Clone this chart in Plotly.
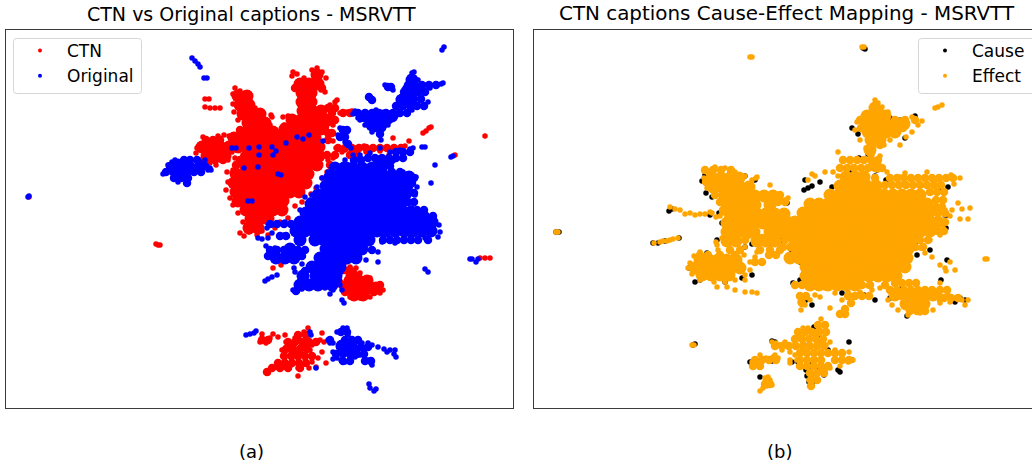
import plotly.graph_objects as go

W, H = 1032, 462

# Values, embedding coordinates (x, y), row by row: {y: [x, ...]}
ctn_dense_rows = {
    75: [317], 84: [300, 309, 318], 93: [302, 311], 102: [302, 311], 111: [303, 312, 321],
    120: [292, 301, 310, 319, 328], 129: [285, 294, 303, 312, 321],
    96: [238, 247], 105: [240, 249], 114: [243, 252, 260], 123: [248, 257, 265], 132: [255, 264, 273],
    138: [234, 243, 252, 261, 270, 279, 288, 297, 306, 315],
    147: [202, 211, 220, 229, 238, 247, 256, 265, 274, 283, 292, 301, 310, 319],
    156: [207, 216, 225, 247, 256, 265, 274, 283, 292, 301, 310, 319],
    165: [245, 254, 263, 272, 281, 290, 299, 308, 317],
    174: [236, 245, 254, 263, 272, 281, 290, 299, 308],
    183: [234, 243, 252, 261, 270, 279, 288, 297, 306],
    192: [236, 245, 254, 263, 272, 281, 290, 299],
    201: [238, 247, 256, 265, 274, 283],
    210: [246, 255, 264, 273, 282],
    219: [251, 260, 268],
    228: [249, 258],
    275: [352], 281: [350, 359, 367], 288: [350, 359, 368, 376], 295: [354, 363],
}
ctn_mid_rows = {
    335: [298, 306], 342: [288, 295, 302, 309, 316], 349: [286, 293, 300, 307],
    356: [284, 291, 298, 305, 312], 363: [278, 285, 292, 299, 306], 368: [272, 280, 288, 300],
    340: [262, 268], 372: [267],
    148: [338, 345, 352, 359, 366, 373, 380, 387, 394, 401],
    155: [327, 335, 350, 357],
    133: [328, 332], 127: [325], 120: [335], 113: [343, 350, 332],
    108: [328, 335], 88: [295, 322],
    270: [344, 350], 285: [342, 380], 292: [345, 374],
    140: [206, 213, 220, 328], 160: [205, 215, 223, 240],
    130: [240, 246], 165: [236, 330],
}
ctn_sparse = [
    (317, 68), (322, 72), (326, 78), (312, 70), (292, 76), (297, 74), (304, 78), (325, 92), (321, 90), (293, 72),
    (330, 105), (335, 102), (337, 100), (326, 108), (333, 112), (340, 113), (347, 112), (352, 111), (283, 117), (288, 116),
    (272, 117), (284, 125), (270, 125), (281, 133), (320, 128), (333, 125), (235, 88), (233, 94), (240, 91), (245, 93),
    (250, 100), (255, 108), (258, 112), (263, 118), (233, 104), (234, 112), (238, 120), (271, 115), (224, 135), (229, 136),
    (197, 148), (196, 153), (200, 160), (210, 163), (220, 160), (228, 160), (232, 152), (203, 137), (213, 139), (218, 136),
    (328, 160), (333, 158), (328, 137), (333, 141), (336, 148), (342, 152), (335, 165), (345, 150), (355, 148), (364, 146),
    (375, 148), (385, 148), (395, 148), (405, 146), (409, 141), (355, 150), (366, 152), (380, 151), (397, 152), (352, 157),
    (243, 155), (235, 158), (233, 170), (227, 172), (228, 182), (226, 190), (230, 198), (233, 205), (238, 213), (243, 222),
    (240, 233), (244, 236), (249, 232), (257, 235), (262, 231), (268, 235), (275, 228), (280, 222), (288, 218), (295, 206),
    (302, 202), (311, 194), (316, 188), (322, 178), (327, 172), (213, 157), (205, 165), (216, 165), (222, 157), (239, 160),
    (205, 99), (209, 99), (205, 107), (210, 108), (215, 108), (220, 108), (158, 245), (156, 244), (160, 245), (485, 136),
    (423, 133), (426, 131), (429, 128), (431, 127), (455, 155), (393, 138), (480, 258), (485, 258), (490, 258), (273, 268),
    (281, 265), (369, 149), (389, 155), (347, 279), (345, 270), (350, 267), (360, 273), (370, 278), (380, 285), (383, 290),
    (380, 293), (370, 297), (360, 298), (350, 297), (343, 290), (341, 282), (343, 262), (340, 264), (346, 262), (356, 268),
    (29, 197),
    (290, 345), (296, 340), (304, 345), (310, 350), (312, 358), (306, 364), (298, 368), (290, 366), (284, 356), (282, 350),
    (300, 335), (304, 332), (308, 328), (296, 352), (298, 358), (303, 354), (292, 358), (305, 358), (300, 348), (290, 350),
    (278, 367), (273, 368), (268, 373), (266, 372), (284, 362), (298, 376), (316, 367), (312, 362), (318, 358), (322, 352),
    (262, 334), (260, 342), (266, 343), (270, 338), (262, 338), (273, 334), (278, 337), (285, 335), (315, 342), (320, 340),
    (324, 342), (322, 333), (326, 363), (312, 345), (309, 368), (295, 338), (286, 342), (294, 345), (300, 341), (307, 338),
]
original_dense_rows = {
    168: [335, 344, 353, 362, 372, 381],
    177: [330, 339, 348, 357, 366, 375, 384, 393, 409],
    186: [326, 335, 344, 353, 362, 371, 380, 389, 398, 407],
    195: [318, 327, 336, 345, 354, 363, 372, 381, 390, 399, 405],
    204: [311, 320, 329, 338, 347, 356, 365, 374, 383, 392, 401],
    213: [306, 315, 324, 333, 342, 351, 360, 369, 378, 387, 396, 405],
    222: [300, 309, 318, 327, 336, 345, 354, 363, 372, 381, 390, 399, 408, 417, 426, 432],
    231: [296, 305, 314, 323, 332, 341, 350, 359, 368, 377, 386, 395, 404, 413, 422, 431],
    240: [300, 315, 324, 333, 342, 351, 360, 369],
    249: [290, 326, 335, 344, 353, 362],
    258: [276, 285, 294, 320, 329, 338, 347, 356],
    267: [322, 331, 340, 312],
    276: [316, 325, 336, 303],
    285: [300, 309, 318, 332],
    116: [365, 374, 383, 392], 125: [372, 381], 100: [402, 411], 90: [408, 417], 80: [412],
    165: [178, 187], 172: [176, 185],
    350: [347], 346: [342, 351],
}
original_mid_rows = {
    113: [358, 365, 372, 379, 386, 393, 400, 407], 120: [368, 375, 382, 389], 128: [375, 382], 134: [380],
    78: [411], 85: [408, 415, 422, 429, 436], 92: [404, 411, 418, 425], 99: [400, 407, 414, 421],
    106: [396, 403, 410, 417, 424],
    87: [388, 391], 97: [369], 100: [372],
    160: [184, 190, 197, 354, 361, 378, 385, 392], 166: [170, 177, 184, 191, 198, 205, 347, 390],
    172: [166, 173, 180, 187, 194, 201, 392, 400], 178: [174, 181, 188, 402, 414], 183: [187, 412],
    158: [368, 375, 382, 389, 396, 403], 152: [396, 403, 410],
    210: [410, 417, 424], 216: [412, 419, 426, 433], 202: [408, 414], 193: [414],
    240: [383, 390, 397, 404, 411, 418, 428], 250: [372, 270, 277, 284, 298, 305], 224: [270, 277, 284, 291],
    236: [280, 286], 256: [268, 302],
    291: [296], 286: [302], 278: [304], 271: [305, 318, 325, 332, 340], 284: [310, 324], 280: [317, 331, 338],
    332: [341, 347], 340: [330, 345, 352, 358], 347: [340, 347, 354, 361, 368], 354: [336, 343, 350, 357, 364],
    361: [343, 350, 365, 371],
    130: [343, 347], 137: [345, 340], 144: [348],
}
original_sparse = [
    (192, 58), (195, 61), (198, 64), (200, 67), (207, 78), (204, 78), (444, 47), (442, 50), (412, 73), (414, 72),
    (418, 80), (420, 90), (425, 85), (430, 88), (436, 86), (441, 84), (443, 83), (428, 102), (418, 105), (412, 110),
    (390, 87), (385, 85), (393, 90), (370, 97), (372, 99), (403, 103), (397, 108), (355, 111), (353, 114), (358, 118),
    (366, 112), (376, 110), (382, 115), (365, 125), (372, 132), (380, 135), (381, 140), (388, 125), (395, 115), (360, 120),
    (340, 128), (343, 136), (345, 142), (338, 135), (347, 132), (351, 148), (353, 155), (345, 160), (360, 155), (370, 153),
    (380, 148), (390, 152), (400, 150), (410, 149), (413, 148), (378, 158), (392, 160), (385, 165), (395, 158), (357, 160),
    (422, 147), (425, 147), (453, 156), (451, 157), (435, 165), (431, 183), (425, 269), (428, 272), (403, 172), (385, 172),
    (387, 175), (388, 176), (390, 172), (403, 175), (410, 174), (416, 177), (417, 187), (411, 185), (415, 195), (410, 203),
    (412, 208), (420, 212), (425, 216), (432, 220), (439, 225), (440, 232), (438, 237), (425, 238), (412, 240), (410, 236),
    (395, 243), (382, 242), (378, 252), (372, 251), (383, 236), (378, 262), (366, 260), (300, 210), (305, 197), (312, 195),
    (310, 200), (317, 187), (322, 178), (328, 172), (285, 222), (272, 225), (267, 228), (272, 233), (280, 237), (284, 235),
    (262, 239), (258, 238), (268, 238), (270, 252), (266, 246), (275, 248), (268, 256), (290, 248), (295, 250), (302, 264),
    (294, 268), (295, 272), (302, 273), (310, 265), (293, 290), (296, 292), (302, 289), (312, 286), (325, 288), (342, 290),
    (340, 285), (342, 300), (344, 303), (272, 277), (268, 279), (265, 281), (277, 275), (330, 294), (333, 290), (343, 257),
    (232, 148),
    (236, 148), (249, 148), (259, 147), (272, 147), (276, 151), (273, 155), (259, 155), (258, 167), (244, 168),
    (286, 143), (297, 137), (303, 139), (309, 135), (323, 141), (252, 201), (248, 201), (281, 175), (278, 174),
    (165, 173), (163, 174), (168, 165), (172, 162), (175, 160), (180, 165), (184, 160), (190, 166), (197, 168), (200, 162),
    (205, 160), (210, 168), (211, 170), (187, 180), (183, 177), (174, 175), (178, 182), (192, 170), (208, 170), (203, 165),
    (29, 196), (28, 197), (472, 259), (476, 262), (478, 259), (470, 259),
    (246, 335), (250, 334), (254, 333), (256, 331), (310, 332), (311, 335), (328, 340), (330, 343), (333, 343), (337, 332),
    (343, 328), (347, 328), (348, 335), (333, 352), (340, 345), (345, 343), (355, 340), (362, 343), (368, 343), (372, 345),
    (337, 358), (345, 362), (350, 358), (360, 355), (368, 360), (372, 365), (371, 363), (333, 359), (341, 360), (378, 347),
    (384, 349), (390, 350), (395, 350), (394, 354), (396, 357), (387, 352), (316, 368), (369, 384), (370, 388), (374, 391),
    (376, 389), (352, 340), (351, 350), (344, 352), (358, 350), (364, 350), (355, 357),
]
cause_sparse = [
    (556, 232), (559, 232), (863, 48), (865, 49), (653, 243), (658, 243), (665, 241), (679, 238), (669, 211), (672, 209),
    (712, 171), (705, 175), (702, 181), (706, 193), (712, 197), (722, 199), (730, 173), (745, 176), (755, 180), (773, 200),
    (787, 203), (805, 180), (808, 188), (804, 190), (812, 186), (820, 182), (832, 187), (846, 180), (852, 172), (859, 158),
    (868, 154), (852, 128), (858, 134), (890, 118), (900, 120), (915, 116), (905, 138), (880, 138), (877, 141), (875, 176),
    (877, 170), (878, 166), (886, 180), (891, 184), (905, 184), (941, 189), (948, 187), (947, 215), (946, 228), (945, 215),
    (915, 235), (915, 243), (920, 241), (917, 255), (930, 250), (947, 260), (941, 280), (902, 288), (905, 290), (910, 292),
    (907, 297), (915, 296), (940, 300), (955, 302), (965, 300), (960, 298), (913, 307), (895, 298), (907, 316), (890, 298),
    (800, 262), (792, 252), (782, 240), (771, 243), (752, 244), (758, 242), (745, 247), (717, 240), (722, 223), (719, 213),
    (710, 215), (707, 253), (689, 268), (695, 282), (700, 280), (727, 268), (732, 265), (725, 282), (742, 278), (752, 275),
    (800, 280), (793, 283), (812, 305), (806, 300), (842, 293), (864, 295), (875, 300), (838, 253), (862, 258),
    (814, 327), (804, 345), (787, 345), (775, 342), (772, 341), (818, 338), (822, 345), (828, 350), (849, 342),
    (852, 360), (840, 372), (838, 370), (810, 366), (806, 370), (798, 362), (792, 362), (772, 361), (760, 367), (750, 362),
    (760, 377), (695, 344), (693, 345), (810, 365), (818, 368), (824, 375), (807, 376), (809, 382), (812, 384),
]
effect_dense_rows = {
    108: [875], 116: [867, 876, 885], 124: [868, 877, 886, 895, 904], 132: [868, 877, 886, 895],
    140: [871, 880], 150: [870], 165: [875],
    177: [846, 855, 864], 186: [840, 849, 858, 867, 876],
    195: [830, 839, 848, 857, 866, 875, 884, 893, 902, 911, 920],
    204: [810, 819, 828, 837, 846, 855, 864, 873, 882, 891, 900, 909, 918, 927],
    213: [803, 812, 821, 830, 839, 848, 857, 866, 875, 884, 893, 902, 911, 920, 929],
    222: [795, 804, 813, 822, 831, 840, 849, 858, 867, 876, 885, 894, 903, 912, 921, 930, 938],
    231: [795, 804, 813, 822, 831, 840, 849, 858, 867, 876, 885, 894, 903, 912, 921, 930],
    240: [795, 804, 813, 822, 831, 840, 849, 858, 867, 876, 885, 894, 903, 912],
    249: [800, 809, 818, 827, 836, 845, 854, 863, 872, 881, 890, 899, 908],
    258: [790, 799, 808, 817, 826, 835, 844, 853, 862, 871, 880, 889, 898, 907],
    267: [806, 815, 824, 833, 842, 851, 860, 869, 878, 887, 896, 905],
    276: [806, 815, 824, 833, 842, 851, 860, 869, 878, 887, 896],
    285: [810, 819, 828, 837, 846, 855],
    295: [895, 904, 915, 924, 933], 304: [906, 915, 924],
    178: [712, 721, 730, 739], 187: [713, 722, 731, 740, 749], 196: [728, 737, 746, 755, 764, 773],
    205: [728, 737, 746, 755, 770], 214: [730, 739, 748, 757, 766, 775, 784],
    223: [727, 736, 745, 754, 763, 772, 781, 790], 232: [727, 736, 745, 754, 770, 779, 788], 241: [727, 736, 757, 766, 775],
    260: [700, 709, 718, 727, 736], 268: [695, 704, 713, 722, 731, 740], 275: [702, 711, 720, 729],
}
effect_mid_rows = {
    160: [843, 850, 857, 864, 871, 878], 168: [840, 847, 854, 861, 868, 875, 882],
    178: [875, 890, 897, 904, 911, 918, 925, 932, 939, 946, 953],
    185: [885, 892, 899, 906, 913, 920, 927, 934, 941],
    192: [930, 937, 944], 200: [936, 943], 207: [936, 942], 213: [938, 945], 222: [945], 231: [938, 944],
    240: [920, 928, 745, 785], 247: [783, 790, 915, 923], 283: [895, 902, 909, 916],
    290: [890, 897, 904, 911, 918, 925, 932, 940, 947],
    298: [940, 944, 951, 958], 311: [910, 917, 925],
    296: [800, 806, 848, 855, 862, 869], 303: [802, 851], 309: [845], 314: [840, 845], 285: [795, 802, 862, 870, 885],
    250: [730, 740, 760, 770, 780, 795], 262: [755, 762],
    170: [705, 713, 721, 731], 182: [706], 255: [700, 708, 720, 735, 769, 776],
    195: [715, 722, 780], 202: [720, 778, 785], 210: [723], 235: [748], 238: [762],
    120: [860, 895, 905, 915], 128: [861, 903], 145: [873, 880], 112: [880],
    325: [818, 825], 332: [798, 805, 812, 819, 826], 339: [795, 802, 809, 816, 823],
    346: [775, 782, 789, 796, 803, 810, 817, 824], 353: [800, 807, 814, 821, 828, 835, 842],
    360: [755, 762, 769, 776, 800, 807, 814, 821, 835, 842, 849], 366: [753, 760, 800, 807, 814, 821, 828],
    373: [810, 817, 824], 380: [811, 817], 386: [811], 384: [770, 765],
}
effect_sparse = [
    (556, 232), (558, 232), (750, 57), (752, 57), (862, 47), (864, 47), (985, 259), (987, 259), (692, 345), (694, 345),
    (654, 243), (660, 242), (663, 241), (667, 241), (670, 240), (673, 239), (678, 238), (670, 207), (675, 209), (680, 210),
    (685, 214), (690, 213), (695, 215), (700, 214), (705, 214), (710, 212), (712, 213), (716, 217), (720, 216), (722, 213),
    (715, 167), (708, 173), (704, 178), (707, 188), (725, 168), (735, 172), (745, 176), (752, 180), (756, 178), (757, 177),
    (770, 185), (770, 202), (773, 197), (781, 200), (785, 200), (788, 198), (717, 245), (722, 238), (716, 242), (718, 250),
    (700, 252), (694, 256), (690, 263), (688, 268), (692, 274), (700, 280), (714, 282), (725, 282), (735, 280), (745, 275),
    (750, 270), (745, 280), (717, 287), (727, 287), (735, 290), (745, 292), (752, 292), (757, 293), (750, 262), (744, 255),
    (755, 257), (745, 247), (757, 252), (754, 243), (770, 250),
    (808, 180), (812, 174), (815, 176), (825, 172), (833, 172), (838, 176), (838, 152), (843, 159), (850, 162), (853, 167),
    (860, 160), (870, 158), (875, 160), (878, 170), (875, 100), (878, 103), (882, 107), (888, 112), (900, 120), (912, 117),
    (922, 121), (918, 125), (912, 132), (906, 137), (900, 145), (890, 140), (884, 145), (895, 135), (857, 122), (855, 130),
    (860, 140), (873, 152), (866, 148), (872, 155), (880, 156), (935, 108), (938, 107), (942, 105), (887, 172), (905, 173),
    (900, 177), (927, 172), (925, 178), (935, 180), (945, 178), (951, 175), (960, 178), (954, 184), (940, 186), (930, 192),
    (958, 203), (952, 210), (962, 209), (970, 208), (968, 219), (960, 219), (950, 216), (945, 210), (943, 225), (940, 235),
    (935, 232), (930, 240), (920, 248), (925, 253), (932, 257), (940, 265), (945, 268), (950, 262), (946, 271), (955, 270),
    (940, 283), (948, 295), (955, 298), (962, 300), (968, 300), (965, 305), (950, 302), (940, 303), (933, 310), (920, 313),
    (908, 315), (898, 310), (892, 305), (888, 300), (890, 290), (895, 280), (880, 288), (872, 290), (860, 292), (848, 292),
    (835, 293), (825, 288), (820, 297), (805, 305), (800, 302), (801, 310), (810, 300), (815, 295), (850, 295), (862, 297),
    (870, 295), (842, 300), (868, 286), (830, 308),
    (821, 319), (824, 324), (820, 330), (815, 335), (800, 338), (795, 343), (785, 342), (776, 343), (772, 342), (782, 350),
    (790, 352), (795, 355), (790, 360), (797, 360), (800, 353), (804, 350), (820, 343), (826, 345), (830, 342), (835, 350),
    (842, 355), (849, 352), (853, 360), (848, 362), (840, 366), (830, 368), (825, 370), (812, 375), (809, 380), (810, 385),
    (815, 374), (820, 372), (775, 355), (768, 360), (760, 362), (755, 365), (752, 362), (760, 355), (766, 358), (778, 358),
    (800, 365), (790, 363), (773, 357), (770, 380), (768, 377), (765, 382), (772, 385), (767, 386), (760, 391), (763, 388),
    (765, 378), (803, 328), (800, 332), (808, 328), (780, 345), (788, 347),
]


def unpack(rows, sparse):
    xs = [x for y, row in rows.items() for x in row] + [p[0] for p in sparse]
    ys = [y for y, row in rows.items() for _ in row] + [p[1] for p in sparse]
    return xs, ys


RED, BLUE, BLACK, ORANGE = "#ff0000", "#0000ff", "#000000", "#ffa500"
FONT = "DejaVu Sans"
fig = go.Figure()


def add(pts, color, size, ax):
    fig.add_trace(go.Scatter(
        x=pts[0], y=pts[1], mode="markers", xaxis=ax[0], yaxis=ax[1],
        marker=dict(color=color, size=size, line=dict(width=0)),
        showlegend=False, hoverinfo="skip",
    ))


def key(name, color, ax, legend):
    # legend key only: same series name, with the smaller key marker of the reference
    fig.add_trace(go.Scatter(
        x=[None], y=[None], mode="markers", name=name, xaxis=ax[0], yaxis=ax[1],
        marker=dict(color=color, size=4, line=dict(width=0)),
        legend=legend, showlegend=True, hoverinfo="skip",
    ))


L, R = ("x", "y"), ("x2", "y2")
BIG, MID, SMALL = 13, 8.5, 5.5
add(unpack(ctn_dense_rows, []), RED, BIG, L)
add(unpack(ctn_mid_rows, []), RED, MID, L)
add(unpack({}, ctn_sparse), RED, SMALL, L)
add(unpack(original_dense_rows, []), BLUE, BIG, L)
add(unpack(original_mid_rows, []), BLUE, MID, L)
add(unpack({}, original_sparse), BLUE, SMALL, L)
add(unpack({}, cause_sparse), BLACK, SMALL, R)
add(unpack(effect_dense_rows, []), ORANGE, BIG, R)
add(unpack(effect_mid_rows, []), ORANGE, MID, R)
add(unpack({}, effect_sparse), ORANGE, SMALL, R)
key("CTN", RED, L, "legend")
key("Original", BLUE, L, "legend")
key("Cause", BLACK, R, "legend2")
key("Effect", ORANGE, R, "legend2")

axis = dict(showticklabels=False, ticks="", showgrid=False, zeroline=False, showline=True,
            linecolor="#3a3a3a", linewidth=1, fixedrange=True)


def legend_box(x0, y0):
    return dict(x=x0 / W, y=1 - y0 / H, xanchor="left", yanchor="top", bgcolor="rgba(255,255,255,0)",
                borderwidth=0, font=dict(family=FONT, size=17, color="#000000"),
                itemwidth=44, itemsizing="trace", tracegroupgap=0)


def rounded(x0, y0, x1, y1, r=3):
    fx, fy = (lambda v: v / W), (lambda v: 1 - v / H)
    path = (f"M {fx(x0 + r)} {fy(y0)} L {fx(x1 - r)} {fy(y0)} Q {fx(x1)} {fy(y0)} {fx(x1)} {fy(y0 + r)} "
            f"L {fx(x1)} {fy(y1 - r)} Q {fx(x1)} {fy(y1)} {fx(x1 - r)} {fy(y1)} "
            f"L {fx(x0 + r)} {fy(y1)} Q {fx(x0)} {fy(y1)} {fx(x0)} {fy(y1 - r)} "
            f"L {fx(x0)} {fy(y0 + r)} Q {fx(x0)} {fy(y0)} {fx(x0 + r)} {fy(y0)} Z")
    return dict(type="path", path=path, xref="paper", yref="paper", layer="above",
                fillcolor="rgba(255,255,255,0.8)", line=dict(color="#d6d6d6", width=1))


fig.update_layout(
    width=W, height=H, autosize=False, margin=dict(l=0, r=0, t=0, b=0),
    paper_bgcolor="white", plot_bgcolor="white",
    xaxis=dict(axis, domain=[5.5 / W, 512.5 / W], range=[5.5, 512.5], mirror=True),
    yaxis=dict(axis, domain=[1 - 407.5 / H, 1 - 29.5 / H], range=[407.5, 29.5], mirror=True),
    xaxis2=dict(axis, domain=[533.5 / W, 1], range=[533.5, 1032], mirror=True),
    yaxis2=dict(axis, domain=[1 - 407.5 / H, 1 - 29.5 / H], range=[407.5, 29.5], anchor="x2"),
    legend=legend_box(13, 33),
    legend2=legend_box(918, 33),
    shapes=[rounded(13.5, 38.5, 141.5, 93.5), rounded(918.5, 38.5, 1040, 93.5)],
    annotations=[
        dict(text=t, x=px / W, y=1 - py / H, xref="paper", yref="paper", showarrow=False,
             xanchor="center", yanchor="middle", font=dict(family=FONT, size=s, color="#000000"))
        for t, px, py, s in [
            ("CTN vs Original captions - MSRVTT", 251, 14, 19),
            ("CTN captions Cause-Effect Mapping - MSRVTT", 787, 14, 19.9),
            ("(a)", 251, 451, 18),
            ("(b)", 779, 451, 18),
        ]
    ],
)
fig.write_html("out.html", config=dict(displayModeBar=False),
               post_script="document.body.style.margin='0';document.body.style.overflow='hidden';")
